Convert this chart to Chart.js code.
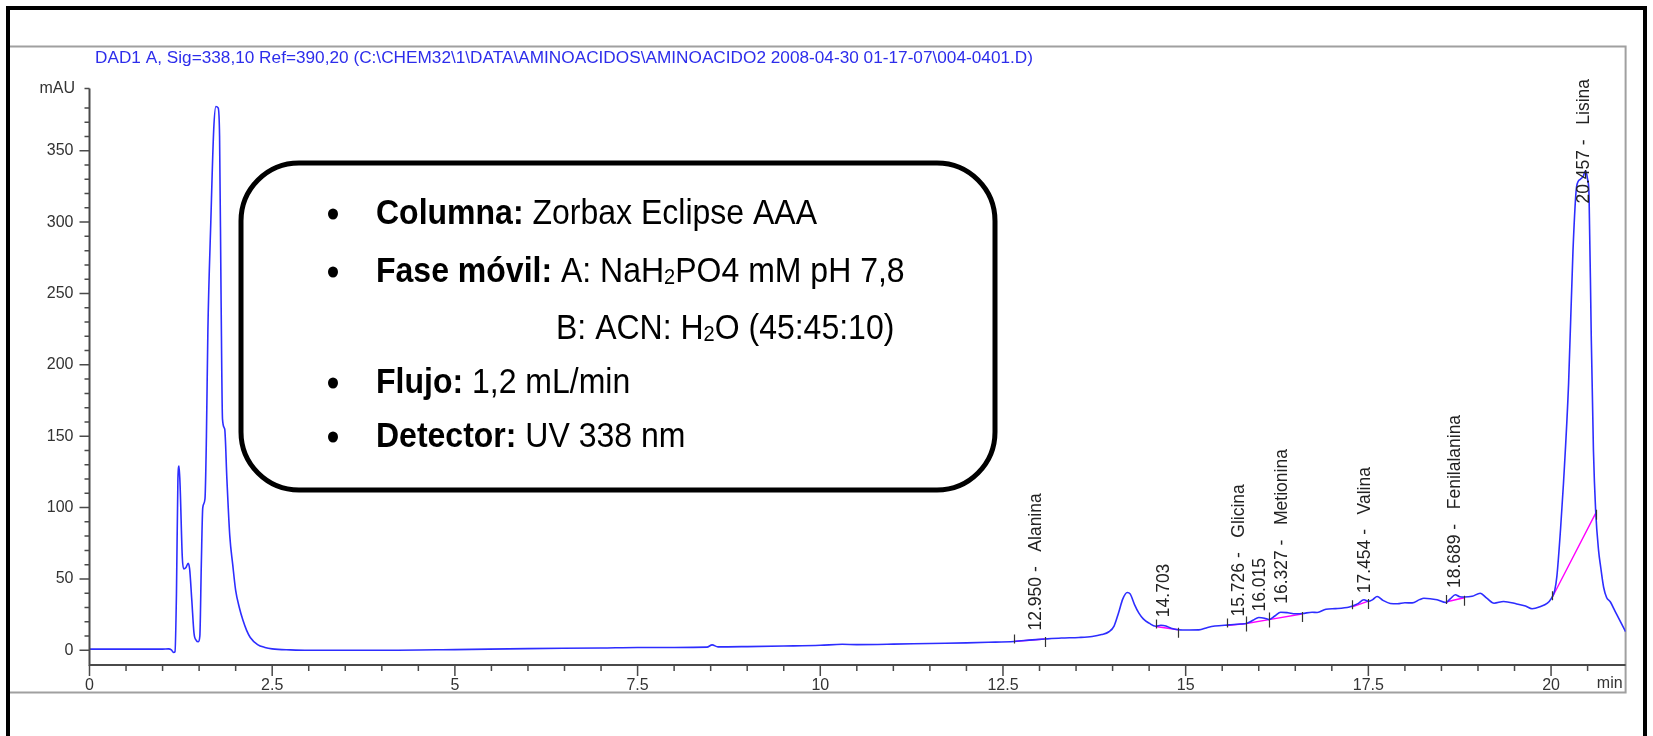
<!DOCTYPE html>
<html>
<head>
<meta charset="utf-8">
<title>Cromatograma aminoácidos</title>
<script src="https://cdn.jsdelivr.net/npm/chart.js@4.4.1/dist/chart.umd.min.js"></script>
<style>
  html, body { margin: 0; padding: 0; background: #fff; }
  canvas { display: block; }
</style>
</head>
<body>
<canvas id="chrom" width="1653" height="736"></canvas>
<script>
const titleText = 'DAD1 A, Sig=338,10 Ref=390,20 (C:\\CHEM32\\1\\DATA\\AMINOACIDOS\\AMINOACIDO2 2008-04-30 01-17-07\\004-0401.D)';

// retention time (min) and absorbance (mAU)
const times = [
  0, 0.5, 1.0, 1.08, 1.12, 1.15, 1.17, 1.19, 1.21, 1.225, 1.24, 1.27, 1.29, 1.32, 1.35, 1.37,
  1.40, 1.43, 1.46, 1.49, 1.51, 1.53, 1.55, 1.58, 1.60, 1.62, 1.66, 1.70, 1.73, 1.76, 1.78,
  1.80, 1.82, 1.85, 1.88, 1.92, 1.96, 2.0, 2.05, 2.1, 2.15, 2.2, 2.3, 2.4, 2.5, 2.75, 3, 4,
  5, 6, 7, 7.5, 8, 8.45, 8.52, 8.6, 9, 9.5, 10, 10.3, 10.5, 11, 11.5, 12, 12.3, 12.65, 12.9,
  13.07, 13.3, 13.54, 13.72, 13.85, 13.95, 14.02, 14.08, 14.14, 14.2, 14.24, 14.3, 14.36,
  14.42, 14.5, 14.59, 14.66, 14.73, 14.8, 14.9, 15.05, 15.18, 15.3, 15.4, 15.59, 15.75, 15.83,
  15.92, 16.0, 16.08, 16.14, 16.22, 16.3, 16.4, 16.5, 16.6, 16.73, 16.8, 16.92, 17.05, 17.24,
  17.35, 17.44, 17.5, 17.56, 17.62, 17.7, 17.8, 17.9, 18.0, 18.1, 18.2, 18.26, 18.44, 18.56,
  18.62, 18.69, 18.75, 18.81, 18.92, 19.03, 19.12, 19.22, 19.35, 19.53, 19.65, 19.74, 19.85,
  19.95, 20.0, 20.05, 20.08, 20.13, 20.17, 20.24, 20.3, 20.35, 20.40, 20.44, 20.47, 20.50,
  20.52, 20.55, 20.58, 20.61, 20.65, 20.68, 20.72, 20.76, 20.81, 20.86, 20.9, 20.96, 21.02
];
const signal = [
  0.8, 0.8, 0.8, 1.0, 0.3, -1.5, -1.0, 40, 120, 129, 115, 65, 57, 58, 61, 57,
  35, 12, 7, 6, 10, 60, 100, 106, 150, 224, 300, 365, 381, 380, 360,
  250, 162, 155, 120, 80, 60, 42, 30, 21, 14, 9, 4, 2, 1, 0.3, 0, 0,
  0.5, 1.2, 1.6, 2, 2, 2.2, 3.8, 2.4, 2.6, 3.0, 3.5, 4.2, 4.0, 4.3, 4.8, 5.2, 5.6, 6.2, 7.3,
  7.9, 8.6, 9.0, 9.7, 11, 13, 17, 26, 36, 40.5, 39.5, 32, 26,
  22, 19, 16.8, 17.5, 17, 15.5, 14.4, 14.2, 14.3, 16, 17, 17.8, 18.4, 18.8,
  21, 23, 22.5, 21.5, 24, 26.7, 26.3, 25.6, 25.8, 26.7, 26.5, 28.8, 29.2, 30.3,
  32.5, 35.4, 34.3, 35.5, 37.7, 35, 32.8, 32.6, 33.3, 33.2, 35.5, 36.5, 35.4, 33.5,
  36, 38.9, 37.5, 37.3, 37.8, 40.0, 36.5, 33, 34.2, 32.5, 31, 29.1, 30.5,
  33, 36, 42, 52, 85, 117, 187, 280, 325, 330, 332, 336, 330,
  318, 220, 140, 98, 70, 58, 44, 37, 34, 29, 25, 19, 13
];

// integrated peaks
const peakTimes = [12.950, 14.703, 15.726, 16.015, 16.327, 17.454, 18.689, 20.457];
const peakNames = ['Alanina', '', 'Glicina', '', 'Metionina', 'Valina', 'Fenilalanina', 'Lisina'];
const labelLevel = [13.9, 23.2, 23.7, 27.2, 32.6, 40, 43.6, 313]; // mAU where each label starts

// integration baselines (start / end of each peak)
const baseStartT = [12.65, 14.59, 15.57, 15.83, 16.14, 17.27, 18.56, 20.01];
const baseStartV = [6.2, 16.7, 17.4, 18.8, 21.5, 30.2, 33.8, 36.5];
const baseEndT = [13.07, 14.90, 15.83, 16.14, 16.59, 17.50, 18.81, 20.62];
const baseEndV = [7.9, 14.4, 18.8, 21.5, 25.4, 34.5, 36.8, 97];

const xTickLabels = [0, 2.5, 5, 7.5, 10, 12.5, 15, 17.5, 20];
const yTickLabels = [0, 50, 100, 150, 200, 250, 300, 350];

const boxLines = [
  { bullet: true, bold: 'Columna:', text: ' Zorbax Eclipse AAA' },
  { bullet: true, bold: 'Fase móvil:', text: ' A: NaH|2|PO4 mM pH 7,8' },
  { bullet: false, bold: '', text: 'B: ACN: H|2|O (45:45:10)' },
  { bullet: true, bold: 'Flujo:', text: ' 1,2 mL/min' },
  { bullet: true, bold: 'Detector:', text: ' UV 338 nm' }
];

const FONT = "'Liberation Sans', Arial, Helvetica, sans-serif";
Chart.defaults.font.family = FONT;

const trace = times.map((t, i) => ({ x: t, y: signal[i] }));
const baselines = [];
baseStartT.forEach((t, i) => {
  baselines.push({ x: t, y: baseStartV[i] }, { x: baseEndT[i], y: baseEndV[i] }, { x: baseEndT[i], y: null });
});

function near(v, list) {
  return list.some((l) => Math.abs(v - l) < 1e-6);
}

function drawRich(ctx, str, x, y, size) {
  // segments between | are subscripts
  const parts = str.split('|');
  parts.forEach((p, i) => {
    if (i % 2 === 1) {
      ctx.font = `${Math.round(size * 0.62)}px ${FONT}`;
      ctx.fillText(p, x, y + size * 0.18);
    } else {
      ctx.font = `${size}px ${FONT}`;
      ctx.fillText(p, x, y);
    }
    x += ctx.measureText(p).width;
  });
  return x;
}

const decor = {
  id: 'decor',
  beforeDraw(chart) {
    const { ctx, chartArea } = chart;
    ctx.save();
    ctx.strokeStyle = '#000';
    ctx.lineWidth = 4;
    ctx.beginPath();
    ctx.moveTo(8, 736); ctx.lineTo(8, 8); ctx.lineTo(1645, 8); ctx.lineTo(1645, 736);
    ctx.stroke();

    ctx.strokeStyle = '#a0a0a0';
    ctx.lineWidth = 2;
    ctx.beginPath();
    ctx.moveTo(10, 46.5); ctx.lineTo(chartArea.right, 46.5);
    ctx.lineTo(chartArea.right, 692.5); ctx.lineTo(10, 692.5);
    ctx.stroke();

    ctx.font = `15px ${FONT}`;
    ctx.fillStyle = 'rgb(45,45,235)';
    ctx.textBaseline = 'middle';
    const w = ctx.measureText(titleText).width;
    ctx.translate(95, 58.5);
    ctx.scale(938 / w, 1.1);
    ctx.fillText(titleText, 0, 0);
    ctx.restore();
  },
  afterDatasetsDraw(chart) {
    const { ctx, chartArea, scales: { x, y } } = chart;
    ctx.save();

    // axes with major / minor ticks
    ctx.strokeStyle = '#4a4a4a';
    ctx.lineWidth = 2;
    ctx.beginPath();
    ctx.moveTo(chartArea.left, chartArea.top);
    ctx.lineTo(chartArea.left, chartArea.bottom);
    ctx.lineTo(chartArea.right, chartArea.bottom);
    ctx.stroke();
    ctx.lineWidth = 1.5;
    ctx.beginPath();
    y.ticks.forEach((tk) => {
      const v = tk.value;
      const isStep = Math.abs(v / 10 - Math.round(v / 10)) < 1e-6;
      const isTop = v === y.max;
      if (!isStep && !isTop) return;
      const len = near(v, yTickLabels) ? 10 : 5;
      const py = y.getPixelForValue(v);
      ctx.moveTo(chartArea.left, py);
      ctx.lineTo(chartArea.left - len, py);
    });
    x.ticks.forEach((tk) => {
      const v = tk.value;
      if (Math.abs(v * 2 - Math.round(v * 2)) > 1e-6) return;
      const len = near(v, xTickLabels) ? 11 : 6;
      const px = x.getPixelForValue(v);
      ctx.moveTo(px, chartArea.bottom);
      ctx.lineTo(px, chartArea.bottom + len);
    });
    ctx.stroke();

    ctx.fillStyle = '#333';
    ctx.font = `16px ${FONT}`;
    ctx.textAlign = 'right';
    ctx.textBaseline = 'middle';
    ctx.fillText('mAU', 75, chartArea.top);
    ctx.font = `16px ${FONT}`;
    ctx.fillText('min', chartArea.right - 3, 684);

    // integration baseline tick marks
    ctx.strokeStyle = '#333';
    ctx.lineWidth = 1.2;
    ctx.beginPath();
    baseStartT.forEach((t, i) => {
      const sx = Math.round(x.getPixelForValue(t)) + 0.5;
      const sy = y.getPixelForValue(baseStartV[i]);
      ctx.moveTo(sx, sy - 7); ctx.lineTo(sx, sy + 2);
      const ex = Math.round(x.getPixelForValue(baseEndT[i])) + 0.5;
      const ey = y.getPixelForValue(baseEndV[i]);
      ctx.moveTo(ex, ey - 2); ctx.lineTo(ex, ey + 8);
    });
    ctx.stroke();

    // peak labels
    ctx.fillStyle = '#222';
    ctx.font = `17.5px ${FONT}`;
    ctx.textAlign = 'left';
    ctx.textBaseline = 'middle';
    peakTimes.forEach((t, i) => {
      const label = peakNames[i] ? `${t.toFixed(3)} -   ${peakNames[i]}` : t.toFixed(3);
      ctx.save();
      ctx.translate(x.getPixelForValue(t), y.getPixelForValue(labelLevel[i]));
      ctx.rotate(-Math.PI / 2);
      ctx.fillText(label, 0, 0);
      ctx.restore();
    });

    // conditions box
    const bx = 241, by = 163, bw = 754, bh = 327, r = 58;
    ctx.beginPath();
    ctx.roundRect(bx, by, bw, bh, r);
    ctx.fillStyle = '#fff';
    ctx.fill();
    ctx.lineWidth = 5;
    ctx.strokeStyle = '#000';
    ctx.stroke();

    const size = 32;
    const rowsY = [214, 272, 329, 383, 437];
    ctx.fillStyle = '#000';
    ctx.textAlign = 'left';
    ctx.textBaseline = 'middle';
    boxLines.forEach((ln, i) => {
      ctx.save();
      ctx.translate(0, rowsY[i]);
      ctx.scale(1, 1.1);
      if (ln.bullet) {
        ctx.beginPath();
        ctx.arc(333, 0, 5, 0, Math.PI * 2);
        ctx.fill();
      }
      let xx = ln.bullet ? 376 : 556;
      if (ln.bold) {
        ctx.font = `bold ${size}px ${FONT}`;
        ctx.fillText(ln.bold, xx, 0);
        xx += ctx.measureText(ln.bold).width;
      }
      drawRich(ctx, ln.text, xx, 0, size);
      ctx.restore();
    });
    ctx.restore();
  }
};

new Chart(document.getElementById('chrom'), {
  type: 'line',
  data: {
    datasets: [
      {
        data: trace,
        borderColor: 'rgb(45,45,255)',
        borderWidth: 1.6,
        pointRadius: 0,
        cubicInterpolationMode: 'monotone',
        fill: false
      },
      {
        data: baselines,
        borderColor: '#ff00ff',
        borderWidth: 1.4,
        pointRadius: 0,
        tension: 0,
        spanGaps: false,
        fill: false
      }
    ]
  },
  options: {
    responsive: false,
    animation: false,
    devicePixelRatio: 1,
    events: [],
    layout: { padding: { left: 0, top: 88.5, right: 27.4, bottom: 0 } },
    plugins: { legend: { display: false }, tooltip: { enabled: false } },
    scales: {
      x: {
        type: 'linear',
        min: 0,
        max: 21.02,
        afterFit(scale) { scale.height = 71; },
        grid: { display: false, drawTicks: false },
        border: { display: false },
        ticks: {
          stepSize: 0.5,
          autoSkip: false,
          maxRotation: 0,
          padding: 11,
          color: '#333',
          font: { size: 16 },
          callback: (v) => (near(v, xTickLabels) ? String(Math.round(v * 10) / 10) : '')
        }
      },
      y: {
        type: 'linear',
        min: -10.3,
        max: 393.6,
        afterFit(scale) { scale.width = 89.5; },
        grid: { display: false, drawTicks: false },
        border: { display: false },
        ticks: {
          stepSize: 10,
          autoSkip: false,
          padding: 16,
          color: '#333',
          font: { size: 16 },
          callback: (v) => (near(v, yTickLabels) ? String(v) : '')
        }
      }
    }
  },
  plugins: [decor]
});
</script>
</body>
</html>
